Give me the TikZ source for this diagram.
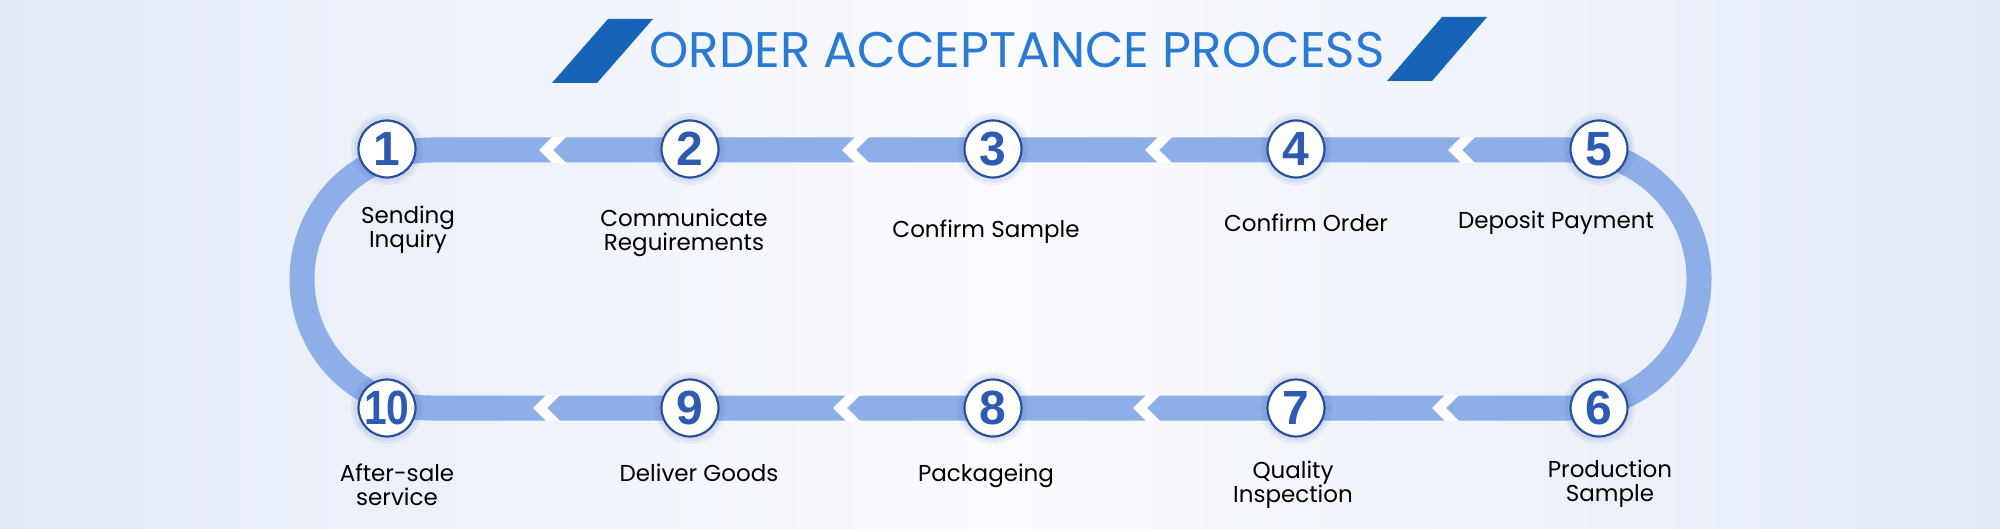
\documentclass[tikz,border=0pt]{standalone}
\usepackage{fontspec}
\usepackage{graphicx}
\setmainfont{Poppins}
\newfontfamily\numfont{Liberation Sans}
\usepackage{tikz}
\definecolor{bandblue}{HTML}{8EAEE8}
\definecolor{numblue}{HTML}{2C5BB1}
\definecolor{ringblue}{HTML}{2B4F9C}
\definecolor{titleblue}{HTML}{2A7AD4}
\definecolor{slashblue}{HTML}{1763B8}
\definecolor{bgside}{HTML}{E3EAF6}
\definecolor{bgmid}{HTML}{FAFBFE}
\tikzset{
step circle/.style = { circle, draw = ringblue, line width = 1.1pt, fill = white, minimum size = 28.5pt, inner sep = 0pt, text = numblue, font = \numfont\bfseries\fontsize{24}{24}\selectfont },
step label/.style = { align = center, text = black, inner sep = 0pt, font = \fontsize{11.5}{12}\selectfont },
band/.style = { draw = bandblue, line width = 12.5pt },
notch/.style = { fill = white, draw = none },
glow/.style = { fill = numblue, draw = none, opacity = 0.07 },
slash/.style = { fill = slashblue, draw = none },
}

\begin{document}
\begin{tikzpicture}[x=0.5pt, y=-0.5pt]
    \shade[left color=bgside, right color=bgside, middle color=bgmid] (0,0) rectangle (2000,529);
    \useasboundingbox (0,0) rectangle (2000,529);
    % title
    \fill[slash] (552,83) -- (608,19) -- (653,19) -- (597,83) -- cycle;
    \fill[slash] (1387,81) -- (1442,17) -- (1487,17) -- (1432,81) -- cycle;
    \node[text=titleblue, inner sep=0pt, font=\fontsize{25}{25}\selectfont] (title) at (1017,50) {ORDER ACCEPTANCE PROCESS};
    % loop
    \draw[band] (431,150) -- (1570,150) arc[start angle=270, end angle=450, radius=129] -- (431,408) arc[start angle=90, end angle=270, radius=129] -- cycle;
    \foreach \p in {553, 856, 1159, 1462}
      \fill[notch] (\p-1,137) -- (\p-14,150) -- (\p-1,163) -- (\p+13,163) -- (\p,150) -- (\p+13,137) -- cycle;
    \foreach \p in {547, 847, 1147, 1446}
      \fill[notch] (\p-1,395) -- (\p-14,408) -- (\p-1,421) -- (\p+13,421) -- (\p,408) -- (\p+13,395) -- cycle;
    \foreach \x in {387, 690, 993, 1296, 1599} {
      \fill[glow] (\x,149) circle[radius=36];
      \fill[glow] (\x,149) circle[radius=33];
      \fill[glow] (\x,408) circle[radius=36];
      \fill[glow] (\x,408) circle[radius=33];
    }
    \node[step circle] (c1) at (387,149) {1};
    \node[step circle] (c2) at (690,149) {2};
    \node[step circle] (c3) at (993,149) {3};
    \node[step circle] (c4) at (1296,149) {4};
    \node[step circle] (c5) at (1599,149) {5};
    \node[step circle] (c6) at (1599,408) {6};
    \node[step circle] (c7) at (1296,408) {7};
    \node[step circle] (c8) at (993,408) {8};
    \node[step circle] (c9) at (690,408) {9};
    \node[step circle] (c10) at (387,408) {\scalebox{0.85}[1]{10}};
    % labels
    \node[step label] (l1) at (408,230) {Sending\\Inquiry};
    \node[step label] (l2) at (684,233) {Communicate\\Reguirements};
    \node[step label] (l3) at (986,232) {Confirm Sample};
    \node[step label] (l4) at (1306,223) {Confirm Order};
    \node[step label] (l5) at (1556,223) {Deposit Payment};
    \node[step label] (l6) at (1610,484) {Production\\Sample};
    \node[step label] (l7) at (1293,485) {Quality\\Inspection};
    \node[step label] (l8) at (986,476) {Packageing};
    \node[step label] (l9) at (699,473) {Deliver Goods};
    \node[step label] (l10) at (397,485) {After-sale\\service};
\end{tikzpicture}
\end{document}
